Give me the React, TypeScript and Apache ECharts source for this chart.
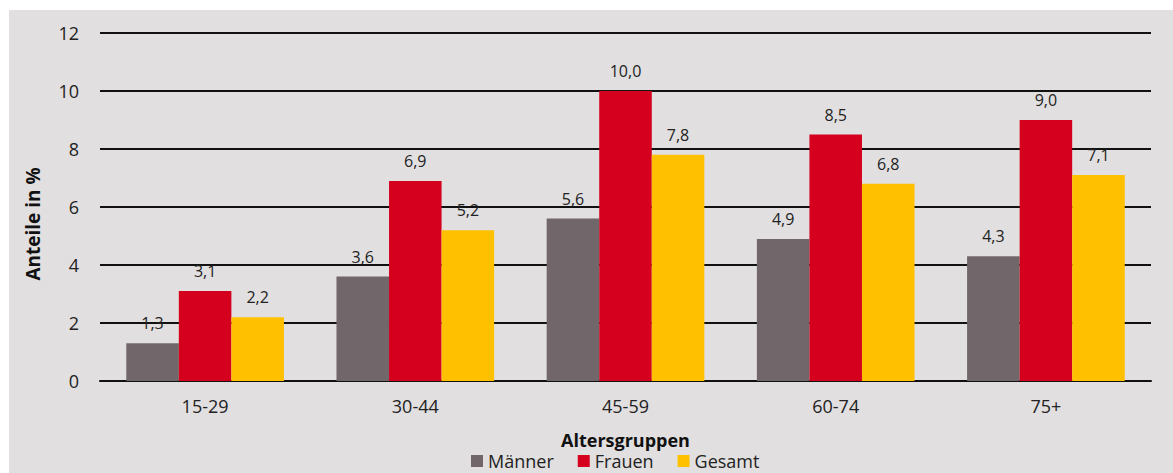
import React, { useEffect, useRef } from "react";
import * as echarts from "echarts";

const categories = ["15-29", "30-44", "45-59", "60-74", "75+"];
const maenner = [1.3, 3.6, 5.6, 4.9, 4.3];
const frauen = [3.1, 6.9, 10.0, 8.5, 9.0];
const gesamt = [2.2, 5.2, 7.8, 6.8, 7.1];
const yTicks = [0, 2, 4, 6, 8, 10, 12];

const FONT = "'Open Sans', 'Noto Sans', sans-serif";
const fmt = (v: number) => v.toFixed(1).replace(".", ",");

export default function App() {
  const ref = useRef<HTMLDivElement>(null);

  useEffect(() => {
    if (!ref.current) return;
    const chart = echarts.init(ref.current, undefined, { renderer: "svg" });
    const label = {
      show: true,
      position: "top" as const,
      distance: 12,
      color: "#222",
      fontSize: 16,
      fontFamily: FONT,
      formatter: (p: any) => fmt(p.value),
    };
    const mk = (name: string, data: number[], color: string) => ({
      name,
      type: "bar" as const,
      data,
      barGap: "0%",
      barCategoryGap: "25%",
      itemStyle: { color },
      label,
    });
    chart.setOption({
      animation: false,
      backgroundColor: "#e1dfe0",
      textStyle: { fontFamily: FONT },
      grid: { left: 91, right: 22, top: 23, bottom: 92 },
      legend: {
        bottom: 3,
        left: 462,
        padding: 0,
        itemWidth: 12,
        itemHeight: 12,
        itemGap: 24,
        icon: "rect",
        textStyle: { fontSize: 18, lineHeight: 15, color: "#222", fontFamily: FONT },
        data: ["Männer", "Frauen", "Gesamt"],
      },
      xAxis: {
        type: "category",
        data: categories,
        axisLine: { lineStyle: { color: "#111", width: 2 } },
        axisTick: { show: false },
        axisLabel: { fontSize: 18, color: "#222", margin: 16, fontFamily: FONT },
        name: "Altersgruppen",
        nameLocation: "middle",
        nameGap: 51,
        nameTextStyle: {
          fontSize: 18,
          lineHeight: 15,
          fontWeight: "bold",
          color: "#111",
          fontFamily: FONT,
        },
      },
      yAxis: {
        type: "value",
        min: yTicks[0],
        max: yTicks[yTicks.length - 1],
        interval: 2,
        axisLine: { show: false },
        axisTick: { show: false },
        splitLine: { lineStyle: { color: "#111", width: 2 } },
        axisLabel: { fontSize: 18, color: "#222", margin: 21, fontFamily: FONT },
      },
      graphic: [
        {
          type: "text",
          x: 24,
          y: 214,
          rotation: Math.PI / 2,
          style: {
            text: "Anteile in %",
            fontSize: 19,
            fontWeight: "bold",
            fill: "#111",
            fontFamily: FONT,
            align: "center",
            verticalAlign: "middle",
          },
        },
      ],
      series: [
        mk("Männer", maenner, "#71676b"),
        mk("Frauen", frauen, "#d5001e"),
        mk("Gesamt", gesamt, "#ffc000"),
      ],
    });
    return () => chart.dispose();
  }, []);

  return (
    <div
      ref={ref}
      style={{ position: "absolute", left: 9, top: 10, width: 1164, height: 463 }}
    />
  );
}
